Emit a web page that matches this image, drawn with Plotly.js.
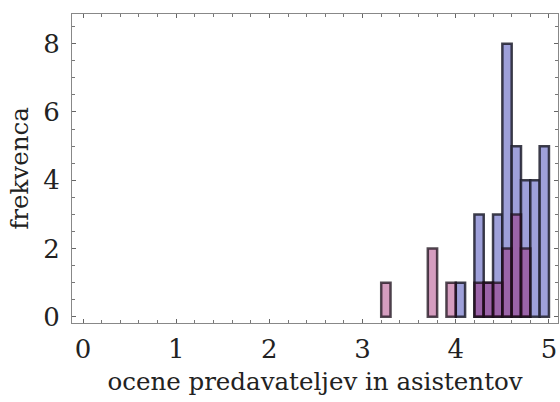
<!DOCTYPE html>
<html>
<head>
<meta charset="utf-8">
<script src="https://cdn.plot.ly/plotly-3.0.1.min.js"></script>
<style>html,body{margin:0;padding:0;background:#fff;}#chart{width:560px;height:402px;}</style>
</head>
<body>
<div id="chart"></div>
<script>
// Bin centres (bin width 0.1) and counts
const blueBins = [4.05, 4.25, 4.35, 4.45, 4.55, 4.65, 4.75, 4.85, 4.95];
const blueCounts = [1, 3, 1, 3, 8, 5, 4, 4, 5];
const pinkBins = [3.25, 3.75, 3.95, 4.25, 4.35, 4.45, 4.55, 4.65, 4.75];
const pinkCounts = [1, 2, 1, 1, 1, 1, 2, 3, 2];
const binWidth = 0.1;
const xTicks = [0, 1, 2, 3, 4, 5];
const yTicks = [0, 2, 4, 6, 8];

const tickFont = {family: 'DejaVu Serif, serif', size: 26, color: '#222'};
const titleFont = {family: 'DejaVu Serif, serif', size: 24.5, color: '#222'};

const traces = [
  {
    type: 'bar', x: blueBins, y: blueCounts,
    width: blueBins.map(() => binWidth),
    marker: {color: 'rgb(158,160,218)', line: {color: 'rgba(30,30,45,0.85)', width: 2.5}},
    hoverinfo: 'x+y'
  },
  {
    type: 'bar', x: pinkBins, y: pinkCounts,
    width: pinkBins.map(() => binWidth),
    marker: {color: 'rgba(150,10,95,0.40)', line: {color: 'rgba(25,15,25,0.75)', width: 2.5}},
    hoverinfo: 'x+y'
  }
];

const axisCommon = {
  showgrid: false, zeroline: false, showline: true, linecolor: '#888', linewidth: 1,
  mirror: 'allticks', ticks: 'inside', ticklen: 4, tickcolor: '#666', tickwidth: 1,
  tickfont: tickFont
};

const layout = {
  width: 560, height: 402,
  margin: {l: 72, r: 2, t: 14, b: 79},
  paper_bgcolor: '#fff', plot_bgcolor: '#fff',
  barmode: 'overlay', bargap: 0,
  showlegend: false,
  xaxis: Object.assign({}, axisCommon, {
    range: [-0.118, 5.097], tickmode: 'array', tickvals: xTicks, ticktext: xTicks.map(String),
    minor: {dtick: 0.2, ticks: 'inside', ticklen: 3, tickcolor: '#777'},
    ticklabelstandoff: 3,
    title: {text: 'ocene predavateljev in asistentov', font: titleFont, standoff: 9}
  }),
  yaxis: Object.assign({}, axisCommon, {
    range: [-0.18, 8.87], tickmode: 'array', tickvals: yTicks, ticktext: yTicks.map(String),
    minor: {dtick: 0.5, ticks: 'inside', ticklen: 3, tickcolor: '#777'},
    ticklabelstandoff: 6,
    title: {text: 'frekvenca', font: titleFont, standoff: 7}
  })
};

Plotly.newPlot('chart', traces, layout, {staticPlot: true, displayModeBar: false});
</script>
</body>
</html>
